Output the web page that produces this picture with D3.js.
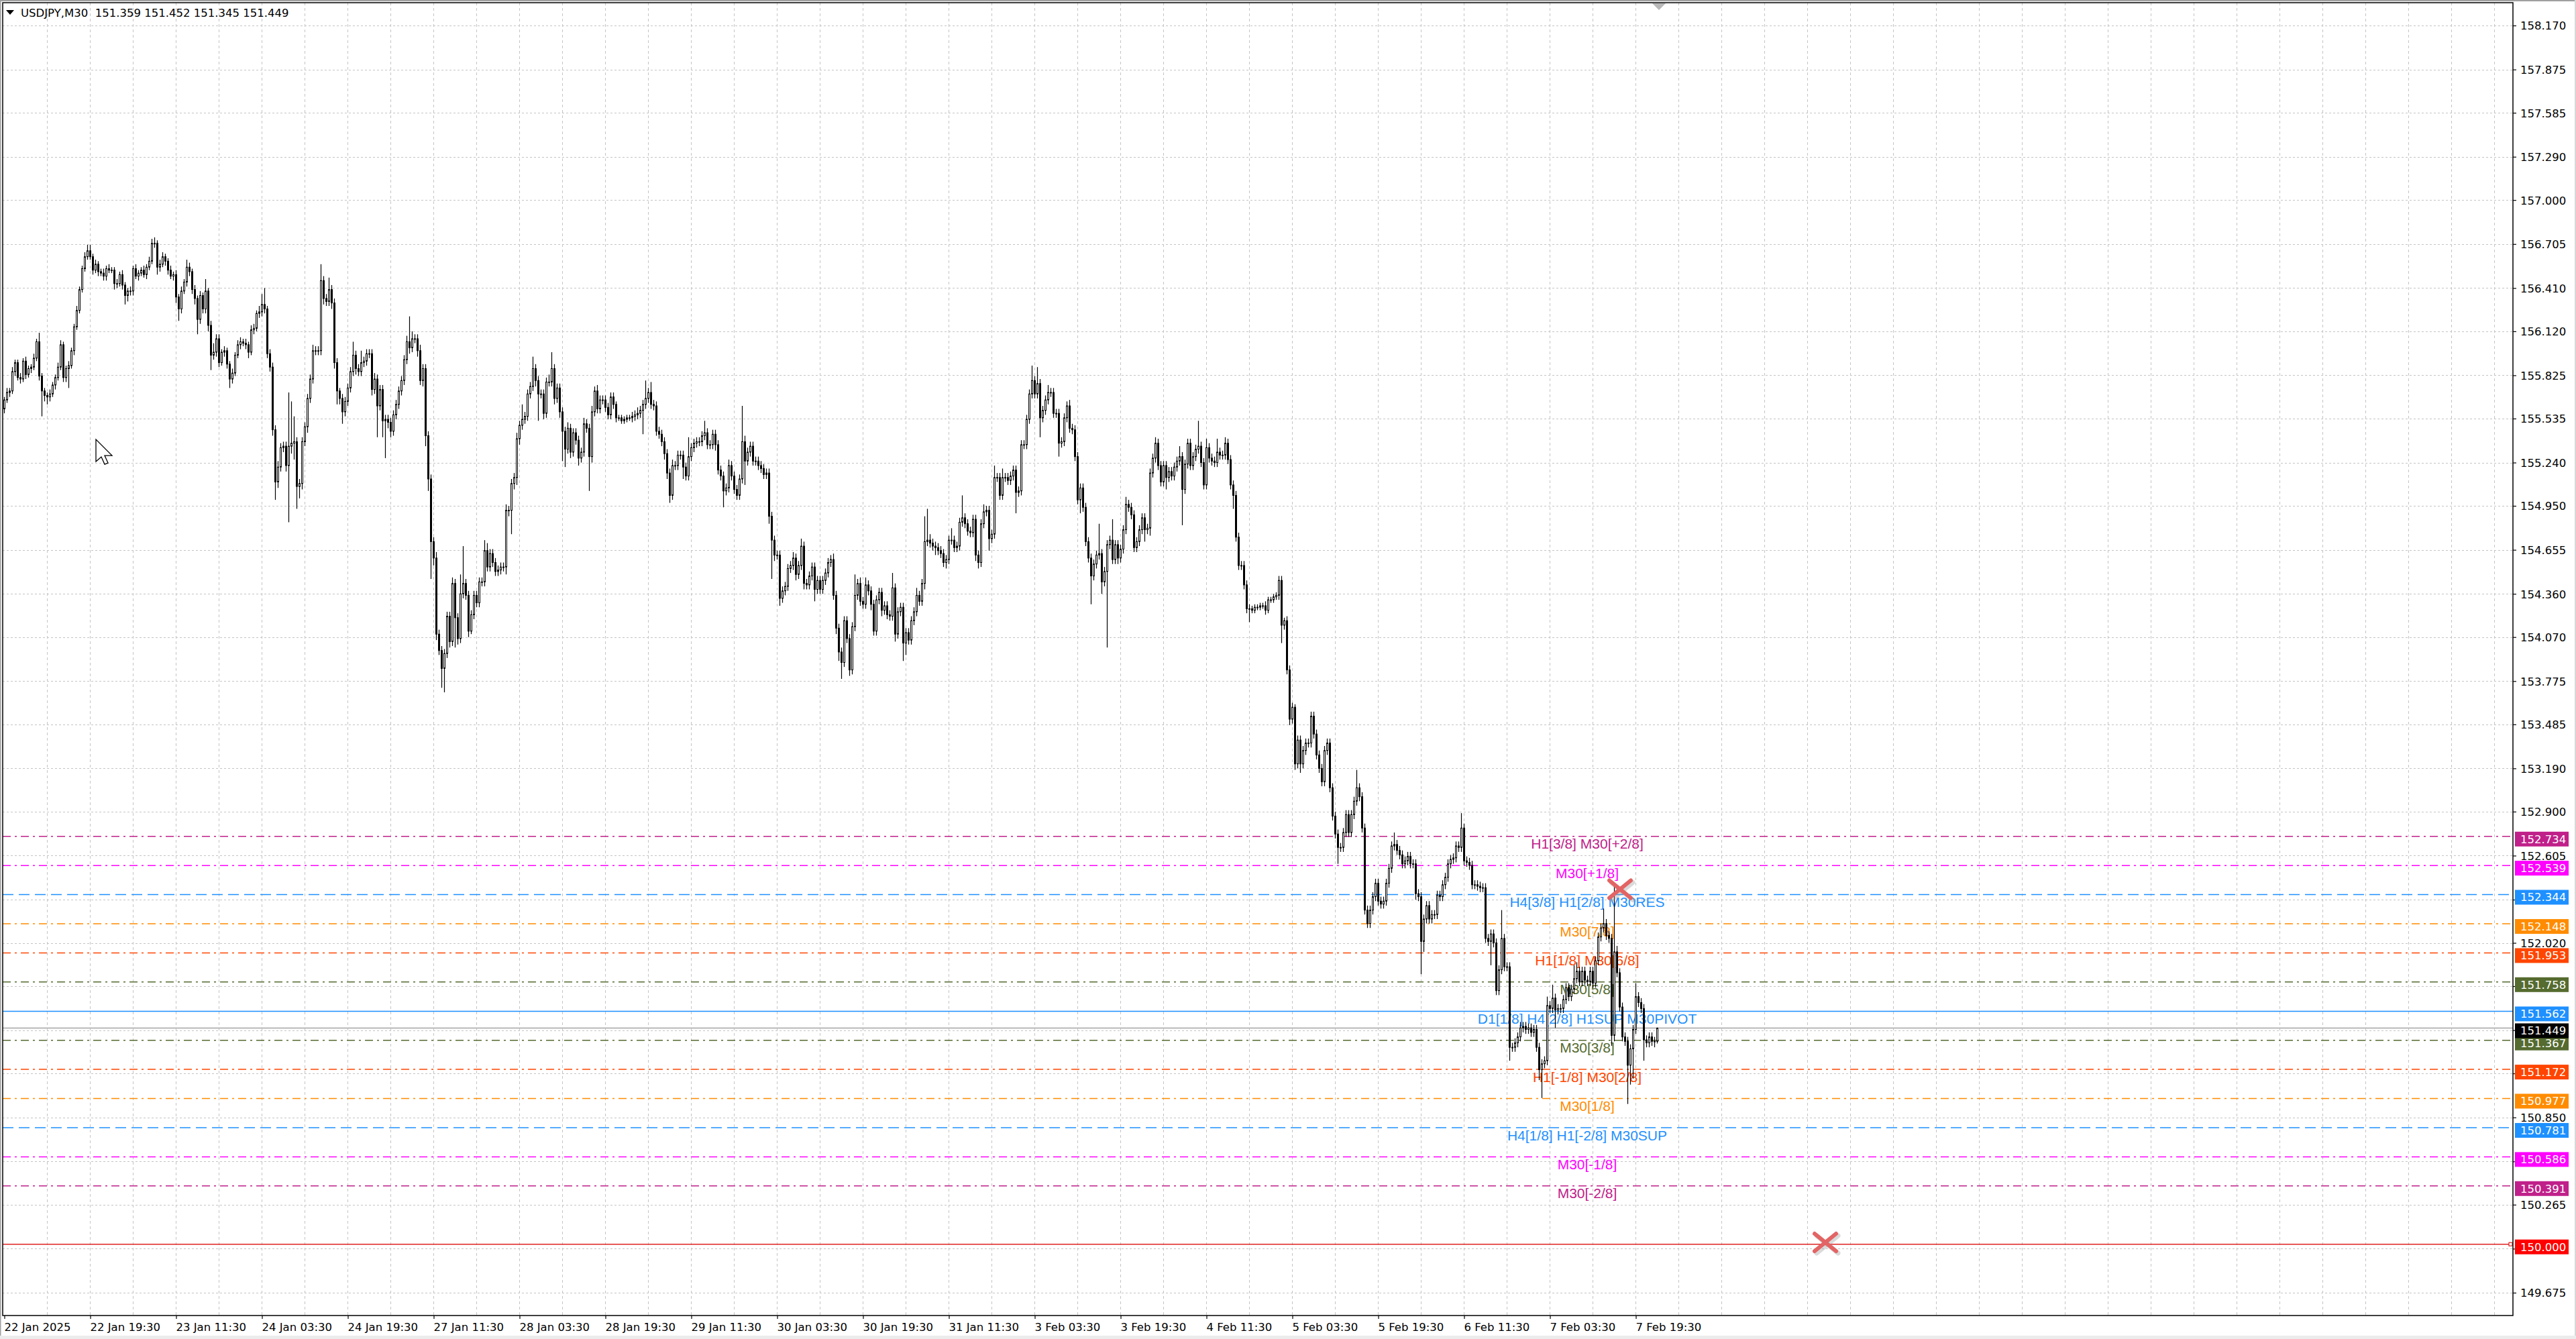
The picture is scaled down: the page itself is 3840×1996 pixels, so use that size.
<!DOCTYPE html>
<html><head><meta charset="utf-8">
<script src="https://cdn.jsdelivr.net/npm/d3@7"></script>
<style>html,body{margin:0;padding:0;background:#fff;overflow:hidden}</style>
</head><body>
<svg id="c" width="3840" height="1996" xmlns="http://www.w3.org/2000/svg"></svg>
<script>
// ---------------- DATA ----------------
const symbolTitle = "USDJPY,M30  151.359 151.452 151.345 151.449";
const timeLabels = ["22 Jan 2025","22 Jan 19:30","23 Jan 11:30","24 Jan 03:30","24 Jan 19:30","27 Jan 11:30","28 Jan 03:30","28 Jan 19:30","29 Jan 11:30","30 Jan 03:30","30 Jan 19:30","31 Jan 11:30","3 Feb 03:30","3 Feb 19:30","4 Feb 11:30","5 Feb 03:30","5 Feb 19:30","6 Feb 11:30","7 Feb 03:30","7 Feb 19:30"];
const barsPerTimeLabel = 32;
const priceTicks = [158.170,157.875,157.585,157.290,157.000,156.705,156.410,156.120,155.825,155.535,155.240,154.950,154.655,154.360,154.070,153.775,153.485,153.190,152.900,152.605,152.310,152.020,151.730,151.435,151.145,150.850,150.555,150.265,149.970,149.675];
const hiddenTickLabels = [152.310,151.730,151.435,151.145,150.555,149.970];

// closes in hundredths above 150.00 (M30 bars, oldest first)
const closeCents = [
566,571,572,585,591,581,580,592,583,587,588,594,605,582,572,569,
568,570,576,581,588,603,581,587,589,599,615,626,640,654,662,666,
662,653,657,652,651,649,654,653,653,644,644,650,643,636,639,639,
654,649,651,653,650,655,659,671,671,655,657,662,659,653,649,650,
635,627,639,645,655,652,640,634,620,636,627,639,616,596,598,607,
591,598,599,590,580,584,596,603,605,604,603,598,613,614,624,625,
630,627,597,588,546,511,521,534,535,522,535,537,538,508,510,538,
548,567,580,599,599,599,646,634,632,640,631,591,572,567,558,565,
574,585,596,587,585,591,592,597,597,573,580,562,573,552,553,551,
545,556,563,572,579,593,605,601,607,607,599,579,587,542,513,471,
460,409,398,386,396,421,404,443,420,406,436,443,435,411,422,435,
430,444,444,465,454,463,457,451,452,454,454,492,492,510,514,540,
549,553,555,570,575,587,579,570,570,557,578,578,587,567,574,558,
545,533,547,531,544,539,527,531,550,547,528,558,572,560,566,566,
561,556,568,563,554,554,552,553,554,554,555,556,557,559,563,567,
571,563,562,545,543,538,530,517,502,522,522,529,529,521,515,528,
534,537,538,538,542,544,536,536,543,536,519,515,505,507,522,515,
506,502,513,538,525,531,535,525,525,522,520,516,517,488,472,462,
462,433,438,441,453,455,460,449,455,468,443,442,448,454,439,445,
439,445,450,457,459,435,413,397,390,418,406,385,414,435,443,431,
429,442,438,429,411,432,437,425,428,422,421,440,409,424,427,403,
410,405,418,424,435,431,443,471,472,470,468,467,465,463,457,459,
472,472,467,468,484,487,483,478,477,486,462,457,483,491,492,473,
476,514,514,502,514,514,512,515,519,504,505,536,536,553,570,579,
570,577,554,559,566,571,571,557,557,537,538,554,562,547,546,528,
499,507,494,471,460,448,456,462,463,444,451,469,472,459,469,460,
466,479,496,494,489,467,471,479,487,479,480,517,527,537,522,511,
522,514,518,515,521,525,528,506,523,537,522,528,533,535,524,509,
534,527,525,524,531,529,529,537,526,509,502,474,455,455,442,426,
426,425,427,427,428,428,425,432,432,434,435,445,415,418,385,352,
360,322,338,322,331,336,336,354,342,328,319,310,331,336,306,287,
275,266,266,276,288,276,288,297,306,300,279,224,215,224,233,242,
230,228,230,242,252,267,268,264,261,255,257,260,255,255,235,233,
203,218,227,218,221,221,234,233,241,246,255,258,259,267,266,279,
257,256,254,241,241,240,239,239,205,203,208,202,170,184,205,186,
186,132,132,135,139,145,146,144,145,142,144,132,117,121,123,160,
158,165,157,158,158,164,172,166,171,178,183,176,183,177,176,183,
175,190,206,212,215,207,205,140,196,182,159,139,136,120,131,144,
166,162,158,137,135,139,136,136,144.9];
const firstOpenCents = 560;
// upper wick above body (hundredths)
const wickUp = [
2,3,2,3,2,2,3,2,3,2,2,3,2,6,2,2, 2,3,2,2,3,3,2,2,3,2,2,3,2,2,3,4,
4,2,3,2,2,3,2,3,2,2,3,2,3,2,2,3, 2,3,2,2,3,2,3,3,4,2,3,3,2,2,3,2,
3,2,3,2,5,3,2,3,2,3,2,8,2,3,6,3, 3,2,3,2,2,3,2,3,3,2,3,2,3,3,2,4,
7,11,2,3,3,3,4,3,3,3,36,28,17,3,3,3, 3,3,3,4,3,3,11,3,3,8,3,3,3,2,3,3,
3,3,9,3,3,8,3,3,3,3,4,3,3,3,3,3, 3,3,3,3,3,3,4,17,5,3,3,4,3,3,3,3,
3,4,3,3,3,3,3,4,3,3,13,25,3,3,3,3, 3,3,3,7,5,3,3,3,3,3,3,4,3,3,3,4,
3,10,3,3,3,8,3,3,3,3,3,5,11,3,3,3, 3,3,4,3,3,3,3,3,4,3,3,4,3,4,3,3,
3,3,3,3,2,2,2,2,2,2,3,3,4,3,3,12, 3,7,3,3,3,3,3,3,3,4,3,3,3,3,3,13,
3,3,3,3,3,8,3,3,3,3,3,3,3,3,4,3, 3,3,3,24,4,3,3,3,3,3,3,3,3,3,3,3,
3,3,3,3,3,3,4,3,3,5,3,3,3,3,3,3, 3,3,3,3,3,4,3,3,3,3,3,3,3,14,3,4,
3,5,3,3,3,3,3,3,3,3,3,10,3,3,3,3, 3,3,3,3,5,3,3,17,21,4,3,3,3,3,3,3,
3,8,3,3,3,15,3,3,3,3,3,3,3,5,3,3, 3,8,3,3,6,3,3,3,3,3,3,3,3,3,3,10,
3,11,3,3,3,5,3,3,3,3,3,3,3,4,3,3, 3,3,3,3,3,3,3,3,20,3,3,3,3,14,3,3,
3,3,5,3,3,3,3,3,3,3,3,3,3,4,3,3, 3,3,3,3,3,3,7,3,3,3,3,3,3,17,3,3,
6,3,3,3,9,3,3,4,3,3,3,3,3,3,3,3, 3,2,2,2,2,2,3,2,2,2,2,3,3,2,3,3,
3,2,3,3,3,3,3,3,3,3,3,3,3,3,3,3, 3,3,3,3,3,3,3,3,12,3,3,3,3,3,3,3,
3,3,3,3,3,3,8,3,3,3,3,3,3,3,3,3, 3,3,3,3,3,3,3,3,3,3,3,3,3,3,3,10,
3,3,3,3,3,3,3,3,3,3,3,3,3,3,19,3, 3,3,3,3,3,4,3,3,3,3,3,3,3,3,3,6,
3,9,3,3,3,3,3,3,3,9,6,3,3,3,3,3, 3,3,3,3,10,3,3,3,46,4,3,3,3,3,3,3,
9,3,3,3,3,3,3,3,0.3];
// lower wick below body (hundredths)
const wickDn = [
3,2,3,2,3,2,3,2,3,2,3,2,2,3,17,4, 5,3,2,3,2,2,3,3,13,2,3,2,2,2,2,2,
2,3,2,3,2,3,3,2,2,4,3,2,3,6,4,3, 3,2,3,2,2,3,2,2,3,5,3,2,3,3,2,3,
4,8,3,2,3,3,3,4,10,3,3,3,4,10,3,3, 3,2,3,3,6,3,2,2,3,2,3,4,2,3,2,3,
3,3,3,3,4,12,4,3,3,4,38,5,11,15,8,4, 3,4,3,3,3,3,3,4,3,3,4,4,9,4,8,3,
3,3,3,4,3,3,3,3,3,4,3,21,3,11,25,4, 4,3,3,3,3,3,3,4,3,3,4,3,4,7,8,25,
5,4,3,13,16,3,4,3,20,4,3,3,3,4,2,3, 3,3,3,3,3,3,3,3,3,3,3,5,4,16,4,5,
4,3,3,3,3,3,4,18,3,4,3,3,3,4,3,4, 20,12,3,4,3,3,5,3,3,3,23,4,3,3,3,3,
3,3,3,3,3,2,2,2,2,2,3,3,3,3,16,3, 3,3,3,3,3,3,4,4,5,3,3,3,3,8,3,3,
3,3,3,3,3,3,3,3,3,4,3,3,11,3,3,3, 3,3,3,3,16,3,3,3,3,3,3,3,3,5,26,4,
3,5,3,3,3,3,3,4,3,3,4,3,3,3,8,3, 3,3,3,3,3,3,4,6,11,3,3,4,3,3,3,3,
3,3,3,4,3,3,3,4,3,3,3,3,5,3,3,12, 8,3,3,3,3,3,3,4,3,3,3,5,3,3,3,4,
3,3,3,3,3,3,3,3,3,3,4,4,3,3,3,8, 3,3,3,3,3,3,3,3,3,14,3,3,3,3,3,3,
3,3,13,3,3,3,3,3,3,9,3,3,3,3,3,3, 3,9,3,3,3,19,3,3,3,8,3,51,3,3,3,4,
3,3,3,3,3,3,3,3,3,8,3,5,3,3,3,3, 3,8,3,3,3,3,3,24,3,3,3,3,3,3,3,3,
3,3,3,3,3,3,3,3,3,3,9,3,3,3,3,3, 9,2,2,2,2,2,3,2,2,2,2,3,12,3,3,4,
3,4,3,6,3,3,3,3,3,3,3,3,3,3,3,3, 3,11,3,3,3,3,3,3,3,3,3,3,3,3,3,3,
3,3,3,3,3,3,3,3,3,3,3,3,3,3,4,3, 22,7,3,3,3,3,3,3,3,3,3,3,3,3,3,3,
3,3,3,3,3,3,3,3,3,3,16,3,3,3,3,3, 3,9,3,3,3,3,3,3,3,3,3,3,7,19,3,3,
3,3,12,3,3,3,3,3,3,3,3,3,3,3,3,3, 3,3,3,3,3,3,3,7,4,3,3,3,3,26,13,20,
3,3,3,14,3,3,3,4,1.4];

// Murrey-math levels
const levelPrices = [152.734,152.539,152.344,152.148,151.953,151.758,151.562,151.367,151.172,150.977,150.781,150.586,150.391];
const levelNames = ["H1[3/8] M30[+2/8]","M30[+1/8]","H4[3/8] H1[2/8] M30RES","M30[7/8]","H1[1/8] M30[6/8]","M30[5/8]","D1[1/8] H4[2/8] H1SUP M30PIVOT","M30[3/8]","H1[-1/8] M30[2/8]","M30[1/8]","H4[1/8] H1[-2/8] M30SUP","M30[-1/8]","M30[-2/8]"];
const levelColors = ["#C0208A","#FF00FF","#1E90FF","#FF8C00","#FF4500","#556B2F","#1E90FF","#556B2F","#FF4500","#FF8C00","#1E90FF","#FF00FF","#C0208A"];
const levelStyles = ["dashdot","dashdot","dash","dashdot","dashdot","dashdot","solid","dashdot","dashdot","dashdot","dash","dashdot","dashdot"];
const levelLabelBar = 590;
const bidPrice = 151.449;
const hLinePrice = 150.000;
const crossMarks = [{bar:602.25, price:152.38},{bar:678.75, price:150.012}];
const cursorAt = {bar:34.25, price:155.395};

// ---------------- DRAW ----------------
const W = 3840, H = 1996;
const plot = {l:4, t:4, r:3746, b:1961};
const svg = d3.select('#c');
const y = d3.scaleLinear().domain([149.522, 158.323]).range([plot.b, plot.t]);
const x = d3.scaleLinear().domain([0, 1]).range([6, 10]); // bar index -> px
const AX = "'DejaVu Sans', Verdana, sans-serif";
const LB = "'Liberation Sans', Arial, sans-serif";

svg.append('rect').attr('width', W).attr('height', H).attr('fill', '#fff');
// window chrome
svg.append('rect').attr('x',0).attr('y',0).attr('width',W).attr('height',2).attr('fill','#a0a0a0');
svg.append('rect').attr('x',0).attr('y',0).attr('width',1.5).attr('height',H).attr('fill','#a0a0a0');
svg.append('rect').attr('x',W-2).attr('y',0).attr('width',2).attr('height',H).attr('fill','#d8d8d8');
svg.append('rect').attr('x',0).attr('y',H-5).attr('width',W).attr('height',5).attr('fill','#ececec');

// grid
const grid = svg.append('g');
grid.selectAll('line.gh').data(priceTicks).join('line')
  .attr('x1', plot.l).attr('x2', plot.r)
  .attr('y1', d => Math.round(y(d)) + 0.5).attr('y2', d => Math.round(y(d)) + 0.5)
  .attr('stroke', '#c4c4c4').attr('stroke-width', 1).attr('stroke-dasharray', '3,3');
const gridBars = d3.range(16, 940, 16).filter(b => x(b) < plot.r - 2);
grid.selectAll('line.gv').data(gridBars).join('line')
  .attr('x1', d => x(d) + 0.5).attr('x2', d => x(d) + 0.5)
  .attr('y1', plot.t).attr('y2', plot.b)
  .attr('stroke', '#c4c4c4').attr('stroke-width', 1).attr('stroke-dasharray', '4,4');

// price levels
const dashFor = s => s === 'dash' ? '16,8' : s === 'dashdot' ? '12,6,3,6' : null;
const lv = levelPrices.map((p, i) => ({p, name: levelNames[i], color: levelColors[i], style: levelStyles[i]}));
const levG = svg.append('g');
levG.selectAll('line').data(lv).join('line')
  .attr('x1', plot.l).attr('x2', plot.r)
  .attr('y1', d => y(d.p)).attr('y2', d => y(d.p))
  .attr('stroke', d => d.color).attr('stroke-width', 1.5)
  .attr('stroke-dasharray', d => dashFor(d.style));
// bid line
levG.append('line').attr('x1', plot.l).attr('x2', plot.r)
  .attr('y1', y(bidPrice)).attr('y2', y(bidPrice))
  .attr('stroke', '#b8b8b8').attr('stroke-width', 2);
// horizontal line 150.000
levG.append('line').attr('x1', plot.l).attr('x2', plot.r)
  .attr('y1', y(hLinePrice)).attr('y2', y(hLinePrice))
  .attr('stroke', '#dd2222').attr('stroke-width', 1.5);
levG.append('rect').attr('x', plot.r - 6).attr('y', y(hLinePrice) - 2.5).attr('width', 5).attr('height', 5)
  .attr('fill', '#fff').attr('stroke', '#dd2222').attr('stroke-width', 1.2);
// level labels
levG.selectAll('text').data(lv).join('text')
  .attr('x', x(levelLabelBar)).attr('y', d => y(d.p) + 18.5)
  .attr('text-anchor', 'middle').attr('font-family', LB).attr('font-size', 21)
  .attr('fill', d => d.color).text(d => d.name);

// candles
const bars = closeCents.map((c, i) => {
  const o = i === 0 ? firstOpenCents : closeCents[i - 1];
  const hi = Math.max(o, c) + wickUp[i], lo = Math.min(o, c) - wickDn[i];
  return {i, open: 150 + o / 100, close: 150 + c / 100, high: 150 + hi / 100, low: 150 + lo / 100};
});
const cg = svg.append('g');
cg.selectAll('line').data(bars).join('line')
  .attr('x1', d => x(d.i) + 0.5).attr('x2', d => x(d.i) + 0.5)
  .attr('y1', d => y(d.high)).attr('y2', d => y(d.low))
  .attr('stroke', '#000').attr('stroke-width', 1.2);
cg.selectAll('rect').data(bars).join('rect')
  .attr('x', d => x(d.i) - 0.5).attr('width', 2)
  .attr('y', d => y(Math.max(d.open, d.close)))
  .attr('height', d => Math.max(0.8, Math.abs(y(d.open) - y(d.close))))
  .attr('fill', d => d.close >= d.open ? '#fff' : '#000')
  .attr('stroke', '#000').attr('stroke-width', 1);

// cross marks
const crossG = svg.append('g');
const drawCross = (g, cx, cy, col, w) => {
  g.append('line').attr('x1', cx - 16).attr('y1', cy - 13).attr('x2', cx + 16).attr('y2', cy + 13)
    .attr('stroke', col).attr('stroke-width', w).attr('stroke-linecap', 'round');
  g.append('line').attr('x1', cx - 16).attr('y1', cy + 13).attr('x2', cx + 16).attr('y2', cy - 13)
    .attr('stroke', col).attr('stroke-width', w).attr('stroke-linecap', 'round');
};
crossMarks.forEach(m => {
  drawCross(crossG, x(m.bar) + 3, y(m.price) + 3, 'rgba(150,150,150,0.35)', 7);
  drawCross(crossG, x(m.bar), y(m.price), '#e36464', 6);
});

// cursor arrow
svg.append('path')
  .attr('transform', `translate(${x(cursorAt.bar)},${y(cursorAt.price)})`)
  .attr('d', 'M0,0 L0,33 L8,26 L13,37 L18,35 L13,24 L24,24 Z')
  .attr('fill', '#fff').attr('stroke', '#000').attr('stroke-width', 1.3);

// shift marker at top
const lastBar = closeCents.length - 1;
svg.append('path')
  .attr('d', `M${x(lastBar) - 7},${plot.t + 1} L${x(lastBar) + 13},${plot.t + 1} L${x(lastBar) + 3},${plot.t + 11} Z`)
  .attr('fill', '#b8b8b8');

// right price axis
const yAxis = d3.axisRight(y).tickValues(priceTicks).tickSize(5)
  .tickFormat(d => hiddenTickLabels.includes(d) ? '' : d.toFixed(3));
const ya = svg.append('g').attr('transform', `translate(${plot.r},0)`).call(yAxis);
ya.select('.domain').remove();
ya.selectAll('line').attr('stroke', '#000').attr('stroke-width', 1.2);
ya.selectAll('text').attr('x', 11).attr('dy', '0.36em').attr('font-family', AX).attr('font-size', 16.5).attr('fill', '#000');

// price boxes (sit slightly below their level, as in the terminal)
const boxG = svg.append('g');
const boxes = lv.map(d => ({p: d.p, color: d.color}))
  .concat([{p: bidPrice, color: '#000'}, {p: hLinePrice, color: '#FF0000'}]);
boxG.selectAll('rect').data(boxes).join('rect')
  .attr('x', plot.r + 3).attr('y', d => y(d.p) - 7).attr('width', 80).attr('height', 22)
  .attr('fill', d => d.color);
boxG.selectAll('text').data(boxes).join('text')
  .attr('x', plot.r + 11).attr('y', d => y(d.p) + 4).attr('dy', '0.36em')
  .attr('font-family', AX).attr('font-size', 16.5).attr('fill', '#fff').text(d => d.p.toFixed(3));

// bottom time axis
const tBars = timeLabels.map((_, k) => k * barsPerTimeLabel);
const xAxis = d3.axisBottom(x).tickValues(tBars).tickSize(5).tickFormat((d, i) => timeLabels[i]);
const xa = svg.append('g').attr('transform', `translate(0,${plot.b})`).call(xAxis);
xa.select('.domain').remove();
xa.selectAll('line').attr('stroke', '#000').attr('stroke-width', 1.2).attr('transform', 'translate(0.5,0)');
xa.selectAll('text').attr('text-anchor', 'start').attr('y', 23).attr('dy', 0)
  .attr('font-family', AX).attr('font-size', 16.5).attr('fill', '#000');

// plot frame
svg.append('rect').attr('x', plot.l).attr('y', plot.t).attr('width', plot.r - plot.l).attr('height', plot.b - plot.t)
  .attr('fill', 'none').attr('stroke', '#000').attr('stroke-width', 1.5);

// title
svg.append('path').attr('d', 'M9,15 L21,15 L15,22 Z').attr('fill', '#000');
svg.append('text').attr('x', 31).attr('y', 25).attr('font-family', AX).attr('font-size', 16.5)
  .attr('fill', '#000').attr('xml:space', 'preserve').style('white-space', 'pre').text(symbolTitle);
</script>
</body></html>
